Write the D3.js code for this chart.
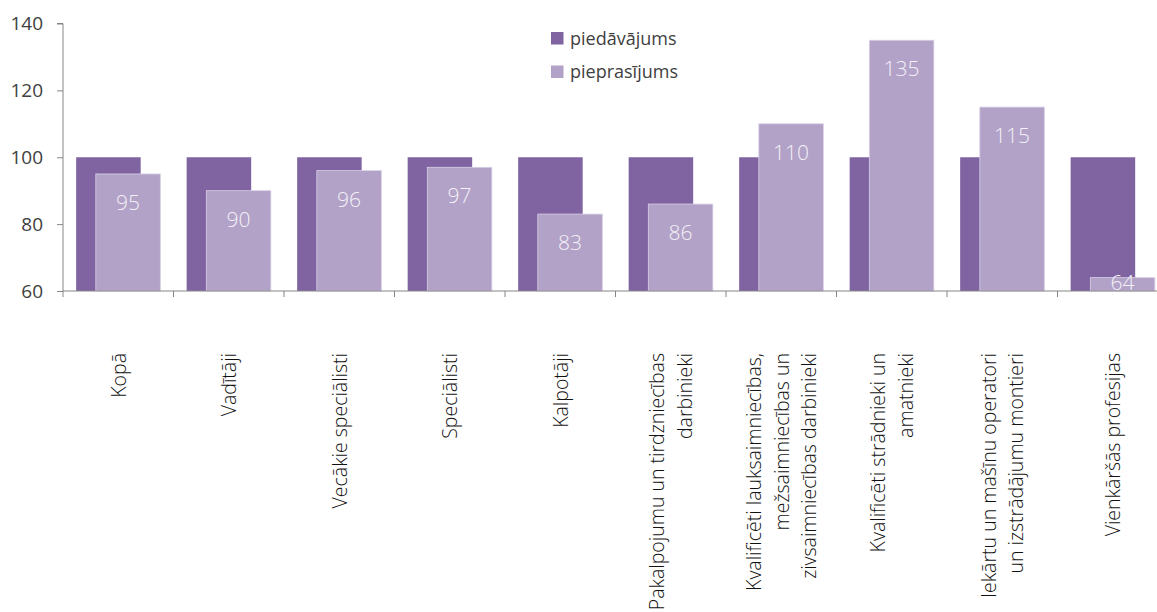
<!DOCTYPE html>
<html>
<head>
<meta charset="utf-8">
<script src="https://cdn.jsdelivr.net/npm/d3@7"></script>
<style>
  html, body { margin: 0; padding: 0; background: #fff; }
  svg { display: block; }
</style>
</head>
<body>
<svg id="chart" width="1157" height="612"></svg>
<script>
const categories = [
  ["Kopā"],
  ["Vadītāji"],
  ["Vecākie speciālisti"],
  ["Speciālisti"],
  ["Kalpotāji"],
  ["Pakalpojumu un tirdzniecības", "darbinieki"],
  ["Kvalificēti lauksaimniecības,", "mežsaimniecības un", "zivsaimniecības darbinieki"],
  ["Kvalificēti strādnieki un", "amatnieki"],
  ["Iekārtu un mašīnu operatori", "un izstrādājumu montieri"],
  ["Vienkāršās profesijas"]
];
const supply = [100, 100, 100, 100, 100, 100, 100, 100, 100, 100];
const demand = [95, 90, 96, 97, 83, 86, 110, 135, 115, 64];
const seriesNames = ["piedāvājums", "pieprasījums"];
const seriesColors = ["#8064A2", "#B2A2C7"];
const yTicks = [60, 80, 100, 120, 140];

const svg = d3.select("#chart");
const font = "'Open Sans', 'Segoe UI', sans-serif";

const x = d3.scaleBand().domain(d3.range(categories.length)).range([63, 1168]).paddingInner(0).paddingOuter(0);
const y = d3.scaleLinear().domain([60, 140]).range([291, 23.5]);

const bw = x.bandwidth();
const barW = bw * 0.584;
const shift = bw * 0.089;

// supply bars
svg.append("g").selectAll("rect").data(supply).join("rect")
  .attr("x", (d, i) => x(i) + bw / 2 - shift - barW / 2)
  .attr("y", d => y(d))
  .attr("width", barW)
  .attr("height", d => y(60) - y(d))
  .attr("fill", seriesColors[0]);

// demand bars
svg.append("g").selectAll("rect").data(demand).join("rect")
  .attr("x", (d, i) => x(i) + bw / 2 + shift - barW / 2)
  .attr("y", d => y(d))
  .attr("width", barW)
  .attr("height", d => y(60) - y(d))
  .attr("fill", seriesColors[1])
  .attr("stroke", "#d9d0e6")
  .attr("stroke-width", 0.8);

// value labels
svg.append("g").selectAll("text").data(demand).join("text")
  .attr("x", (d, i) => x(i) + bw / 2 + shift)
  .attr("y", d => Math.min(y(d) + 36, y(60) - 1))
  .attr("text-anchor", "middle")
  .attr("font-family", font)
  .attr("font-weight", 300)
  .attr("font-size", 21)
  .attr("fill", "#f4f1f8")
  .text(d => d);

// y axis
const yAxis = svg.append("g")
  .attr("transform", "translate(63,0)")
  .call(d3.axisLeft(y).tickValues(yTicks).tickSize(6).tickPadding(14).tickFormat(d3.format("d")));
yAxis.select(".domain").attr("stroke", "#868686").attr("d", `M-6,${y(140)}H0V${y(60)}`);
yAxis.selectAll(".tick line").attr("stroke", "#868686");
yAxis.selectAll(".tick text")
  .attr("font-family", font)
  .attr("font-size", 19)
  .attr("fill", "#404040");

// x axis line and ticks
const xAxisG = svg.append("g");
xAxisG.append("line")
  .attr("x1", 63).attr("x2", 1168)
  .attr("y1", y(60)).attr("y2", y(60))
  .attr("stroke", "#868686");
xAxisG.selectAll("line.tick").data(d3.range(categories.length + 1)).join("line")
  .attr("class", "tick")
  .attr("x1", i => 63 + i * bw).attr("x2", i => 63 + i * bw)
  .attr("y1", y(60)).attr("y2", y(60) + 6)
  .attr("stroke", "#868686");

// category labels
const lineGap = 27.5;
const labG = svg.append("g").selectAll("g").data(categories).join("g")
  .attr("transform", (d, i) => `translate(${x(i) + bw / 2},353) rotate(-90)`);
labG.each(function(lines) {
  const t = d3.select(this).append("text")
    .attr("text-anchor", "end")
    .attr("font-family", font)
    .attr("font-weight", 300)
    .attr("font-size", 19.5)
    .attr("fill", "#111");
  lines.forEach((ln, j) => {
    t.append("tspan")
      .attr("x", 0)
      .attr("y", (j - (lines.length - 1) / 2) * lineGap)
      .attr("dy", "0.38em")
      .text(ln);
  });
});

// legend
const leg = svg.append("g").selectAll("g").data(seriesNames).join("g")
  .attr("transform", (d, i) => `translate(551,${32 + i * 33.5})`);
leg.append("rect").attr("width", 12.5).attr("height", 12.5).attr("fill", (d, i) => seriesColors[i]);
leg.append("text")
  .attr("x", 19).attr("y", 6.5).attr("dy", "0.35em")
  .attr("font-family", font)
  .attr("font-size", 18)
  .attr("fill", "#404040")
  .text(d => d);
</script>
</body>
</html>
